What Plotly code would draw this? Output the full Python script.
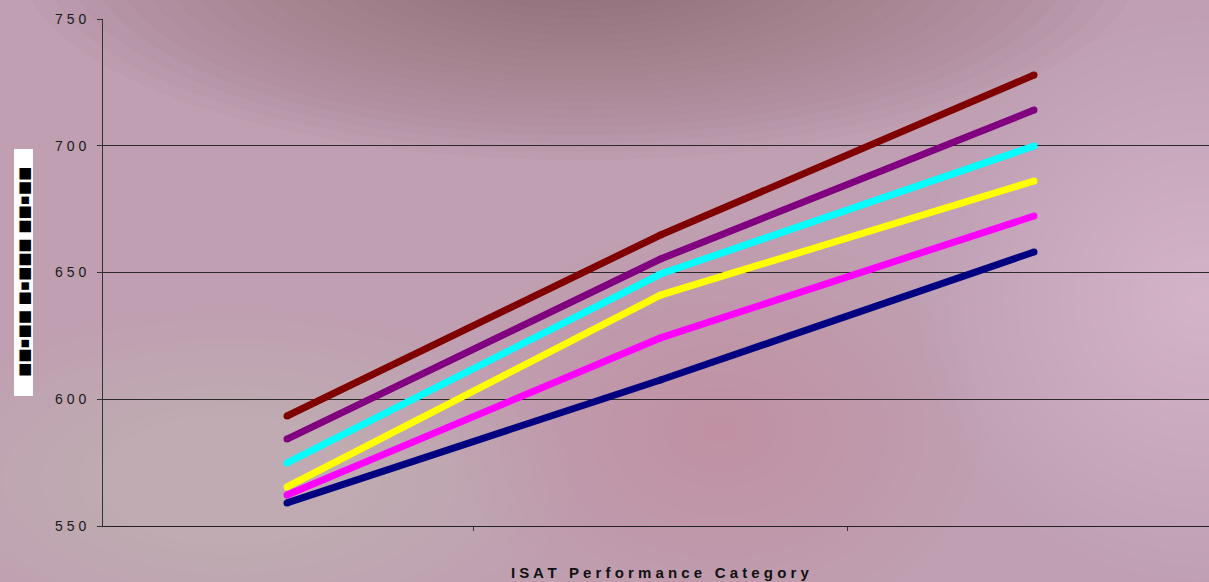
import plotly.graph_objects as go

# Category positions along the x axis (three performance bands)
categories = [0, 1, 2]
band_ticks = [0.5, 1.5]

# Mean scale scores per grade across the performance bands
grade_3 = [559.1, 607.6, 658.1]
grade_4 = [562.2, 624.2, 672.3]
grade_5 = [565.4, 641.1, 686.1]
grade_6 = [574.9, 649.4, 699.9]
grade_7 = [584.3, 655.3, 714.1]
grade_8 = [593.4, 664.8, 727.9]

y_ticks = [550, 600, 650, 700, 750]
y_tick_text = ["5 5 0", "6 0 0", "6 5 0", "7 0 0", "7 5 0"]

series = [
    ("Grade 8", grade_8, "#800000"),
    ("Grade 7", grade_7, "#800080"),
    ("Grade 6", grade_6, "#00ffff"),
    ("Grade 5", grade_5, "#ffff00"),
    ("Grade 4", grade_4, "#ff00ff"),
    ("Grade 3", grade_3, "#000080"),
]

W, H = 1209, 582
L, R, T, B = 103, 0, 19, 56
PW, PH = W - L - R, H - T - B

fig = go.Figure()
for name, vals, color in series:
    fig.add_trace(go.Scatter(
        x=categories, y=vals, mode="lines+markers", name=name,
        line=dict(color=color, width=7),
        marker=dict(color=color, size=7, line=dict(width=0)),
        showlegend=False, hoverinfo="skip",
    ))


def px_to_paper(px, py):
    return (px - L) / PW, (H - B - py) / PH


def soft_blob(cx, cy, rx, ry, color, steps=20, alpha=0.03):
    # stack of translucent ellipses gives a soft radial shade
    shapes = []
    for i in range(steps):
        f = 1 - i / steps
        x0, y1 = px_to_paper(cx - rx * f, cy - ry * f)
        x1, y0 = px_to_paper(cx + rx * f, cy + ry * f)
        shapes.append(dict(
            type="circle", xref="paper", yref="paper",
            x0=x0, x1=x1, y0=y0, y1=y1,
            fillcolor=color, opacity=alpha, line=dict(width=0),
            layer="below",
        ))
    return shapes


shapes = []
shapes += soft_blob(580, -40, 560, 200, "#5e3a4e", steps=24, alpha=0.028)
shapes += soft_blob(1200, 300, 280, 280, "#f4e6ee", steps=20, alpha=0.028)
shapes += soft_blob(230, 480, 340, 170, "#dcc6da", steps=18, alpha=0.022)
shapes += soft_blob(720, 430, 260, 200, "#a07890", steps=14, alpha=0.016)

# white label box on the left
bx0, by1 = px_to_paper(14, 149)
bx1, by0 = px_to_paper(33, 396)
shapes.append(dict(type="rect", xref="paper", yref="paper",
                   x0=bx0, x1=bx1, y0=by0, y1=by1,
                   fillcolor="white", line=dict(width=0), layer="above"))

tx, ty = px_to_paper(24, 272)
xt_x, xt_y = px_to_paper(660, 572)

fig.update_layout(
    width=W, height=H,
    margin=dict(l=L, r=R, t=T, b=B),
    paper_bgcolor="#bf9fb1",
    plot_bgcolor="rgba(0,0,0,0)",
    font=dict(family="Arial, Liberation Sans, sans-serif", color="#1a1a1a"),
    shapes=shapes,
    xaxis=dict(
        range=[-(287 - L) / 373.5, (W - R - 287) / 373.5],
        tickvals=band_ticks, showticklabels=False,
        ticks="outside", ticklen=4, tickcolor="#333333", tickwidth=1,
        showgrid=False, zeroline=False,
        showline=True, linecolor="#222222", linewidth=1,
        fixedrange=True,
    ),
    yaxis=dict(
        range=[550, 750],
        tickvals=y_ticks, ticktext=y_tick_text,
        ticks="outside", ticklen=5, tickcolor="#333333",
        ticklabelstandoff=8,
        tickfont=dict(size=14, color="#1a1a1a"),
        showgrid=True, gridcolor="#2a2a2a", gridwidth=1,
        zeroline=False,
        showline=True, linecolor="#333333", linewidth=1,
        fixedrange=True,
    ),
    annotations=[
        dict(
            text="I S A T   P e r f o r m a n c e   C a t e g o r y",
            xref="paper", yref="paper", x=xt_x, y=xt_y,
            showarrow=False, xanchor="center", yanchor="middle",
            font=dict(size=15, color="#111111", family="Arial, Liberation Sans, sans-serif",
                      weight="bold"),
        ),
        dict(
            text="■■▪■■ ■▪■■■ ■■▪■■",
            xref="paper", yref="paper", x=tx, y=ty,
            showarrow=False, textangle=-90,
            xanchor="center", yanchor="middle",
            font=dict(size=15, color="#000000", family="DejaVu Sans"),
        ),
    ],
)

fig.write_html("out.html")
